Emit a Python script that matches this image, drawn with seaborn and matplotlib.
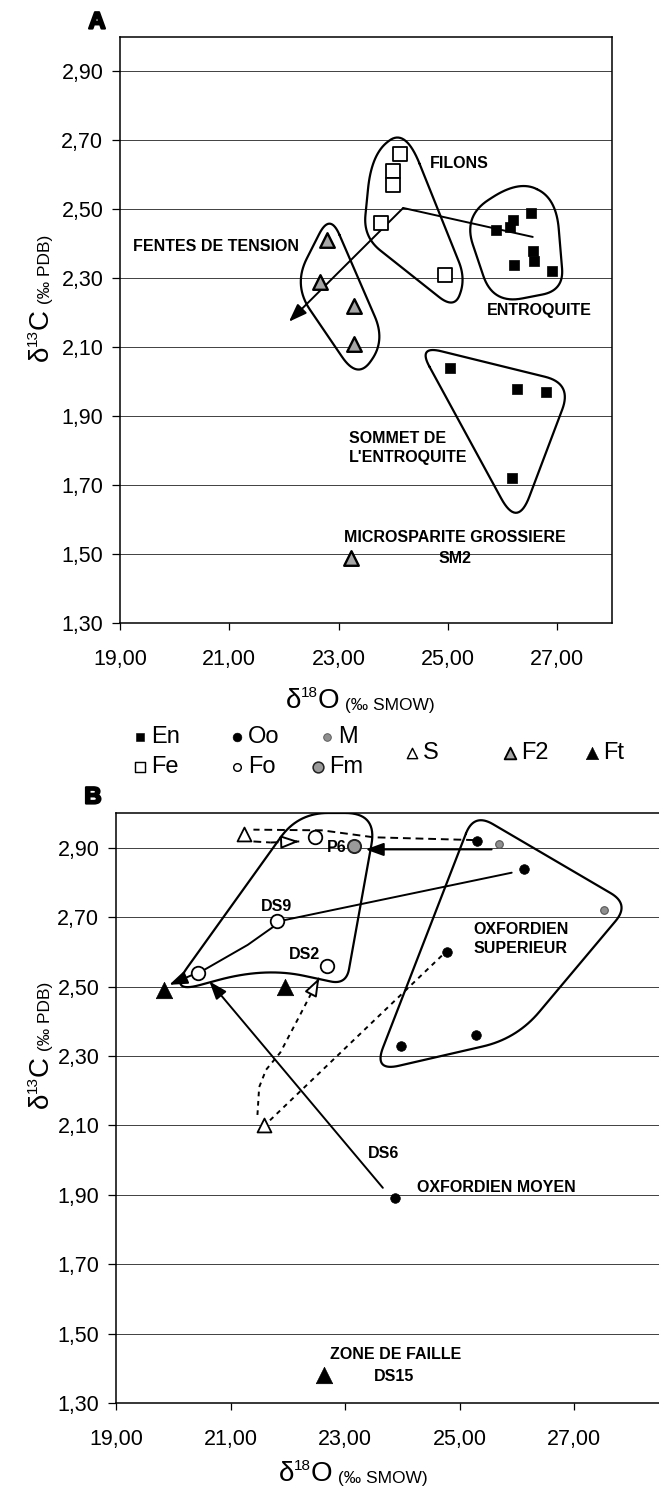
import numpy as np
import matplotlib
matplotlib.use("Agg")
import matplotlib.pyplot as plt
import matplotlib.patheffects as pe
import seaborn as sns

# ---------------------------------------------------------------- data
# axis ticks
x_ticks = [19, 21, 23, 25, 27]
x_tick_labels = ["19,00", "21,00", "23,00", "25,00", "27,00"]
y_ticks = [1.3, 1.5, 1.7, 1.9, 2.1, 2.3, 2.5, 2.7, 2.9]
y_tick_labels = ["1,30", "1,50", "1,70", "1,90", "2,10", "2,30", "2,50", "2,70", "2,90"]

# panel A : entroquite (En), filons (Fe), fentes / microsparite (F2)
a_en_x = [25.88, 26.13, 26.19, 26.52, 26.55, 26.21, 26.58, 26.91, 25.03, 26.27, 26.80, 26.17]
a_en_y = [2.44, 2.45, 2.47, 2.49, 2.38, 2.34, 2.35, 2.32, 2.04, 1.98, 1.97, 1.72]
a_fe_x = [24.12, 24.00, 23.99, 23.78, 24.94]
a_fe_y = [2.66, 2.61, 2.57, 2.46, 2.31]
a_f2_x = [22.78, 22.65, 23.28, 23.28, 23.22]
a_f2_y = [2.41, 2.29, 2.22, 2.11, 1.49]
a_trend_x = [26.55, 24.18, 22.09]
a_trend_y = [2.42, 2.504, 2.174]

# panel B : Oxfordien
b_oo_x = [25.31, 26.13, 24.78, 23.97, 25.28, 23.88]
b_oo_y = [2.92, 2.84, 2.60, 2.33, 2.36, 1.89]
b_m_x = [25.68, 27.52]
b_m_y = [2.91, 2.72]
b_fm_x = [23.16]
b_fm_y = [2.905]
b_fo_x = [22.48, 21.82, 22.69, 20.43]
b_fo_y = [2.93, 2.69, 2.56, 2.54]
b_s_x = [21.24, 21.58]
b_s_y = [2.94, 2.10]
b_ft_x = [19.84, 21.96, 22.64]
b_ft_y = [2.49, 2.50, 1.38]

# evolution paths, panel B
b_ds9_x = [25.91, 21.90, 21.30, 20.54, 19.93]
b_ds9_y = [2.828, 2.69, 2.62, 2.548, 2.505]
b_ds6_x = [23.66, 20.63]
b_ds6_y = [1.92, 2.515]
b_p6_x = [25.56, 23.36]
b_p6_y = [2.895, 2.895]
b_top_dash_x = [25.25, 23.5, 22.6, 21.40]
b_top_dash_y = [2.922, 2.93, 2.95, 2.952]
b_back_dash_x = [21.40, 21.7, 22.2]
b_back_dash_y = [2.918, 2.915, 2.918]
b_down_dash_x = [24.69, 21.66]
b_down_dash_y = [2.589, 2.11]
b_up_dash_x = [21.47, 21.50, 21.62, 21.87, 22.22, 22.55]
b_up_dash_y = [2.13, 2.21, 2.26, 2.31, 2.42, 2.525]

# group envelopes (corner vertices and corner rounding in px)
env_filons = ([24.22, 23.6, 23.45, 25.12, 25.32], [2.735, 2.66, 2.42, 2.21, 2.30], [38, 35, 22, 20, 18])
env_entro = ([26.3, 25.28, 25.82, 27.12, 26.98], [2.585, 2.48, 2.225, 2.265, 2.53], [38, 30, 30, 22, 30])
env_fentes = ([22.84, 22.17, 23.35, 23.85], [2.49, 2.28, 2.005, 2.12], [24, 30, 28, 26])
env_sommet = ([24.45, 27.27, 26.27], [2.105, 1.995, 1.575], [24, 28, 34])
env_b_left = ([22.18, 23.56, 23.02, 21.6, 19.92], [3.0, 3.0, 2.505, 2.555, 2.48], [30, 32, 16, 60, 32])
env_b_right = ([25.25, 27.97, 26.0, 23.5], [3.0, 2.737, 2.35, 2.255], [22, 22, 35, 26])

# ---------------------------------------------------------------- style
sns.set_theme(style="white")
plt.rcParams["font.family"] = ["Liberation Sans", "DejaVu Sans"]
plt.rcParams["text.color"] = "black"

W, H, DPI = 659, 1488, 100
fig = plt.figure(figsize=(W / DPI, H / DPI), dpi=DPI)
fig.patch.set_facecolor("white")


def frame(left, top, right, bottom):
    return [left / W, 1 - bottom / H, (right - left) / W, (bottom - top) / H]


ax_a = fig.add_axes(frame(120, 37, 612, 623))
ax_b = fig.add_axes(frame(116, 813, 660, 1403))
over = fig.add_axes([0, 0, 1, 1], zorder=10)
over.set_xlim(0, W)
over.set_ylim(H, 0)
over.axis("off")


def style_axes(ax, xmax, right_spine=True):
    ax.set_xlim(19, xmax)
    ax.set_ylim(1.3, 3.0)
    ax.set_xticks(x_ticks)
    ax.set_xticklabels(x_tick_labels)
    ax.set_yticks(y_ticks)
    ax.set_yticklabels(y_tick_labels)
    ax.tick_params(axis="y", direction="out", length=6, width=0.9, pad=6,
                   labelsize=15.5, colors="black", left=True)
    ax.tick_params(axis="x", direction="out", length=5, width=0.9, pad=14,
                   labelsize=15.5, colors="black", bottom=True)
    ax.grid(False)
    ax.yaxis.grid(True, color="#404040", lw=0.7, zorder=0)
    ax.set_axisbelow(True)
    for sp in ax.spines.values():
        sp.set_color("black")
        sp.set_linewidth(1.1)
        sp.set_visible(True)
    ax.spines["right"].set_visible(right_spine)
    ax.set_facecolor("white")


style_axes(ax_a, 28.0)
style_axes(ax_b, 28.5, right_spine=False)

SCALE_A = (492 / 9.0, 586 / 1.7)
SCALE_B = (544 / 9.5, 590 / 1.7)


def rounded_outline(env, scale, n=18):
    xs, ys, cuts = env
    sx, sy = scale
    P = np.column_stack([np.asarray(xs) * sx, np.asarray(ys) * sy])
    k = len(P)
    t = np.linspace(0, 1, n)[:, None]
    parts = []
    for i in range(k):
        prev, cur, nxt = P[i - 1], P[i], P[(i + 1) % k]
        d0 = prev - cur
        d1 = nxt - cur
        l0 = np.hypot(*d0)
        l1 = np.hypot(*d1)
        a = cur + d0 / l0 * min(cuts[i], 0.48 * l0)
        b = cur + d1 / l1 * min(cuts[i], 0.48 * l1)
        parts.append((1 - t) ** 2 * a + 2 * (1 - t) * t * cur + t ** 2 * b)
    pts = np.vstack(parts + [parts[0][:1]])
    return pts[:, 0] / sx, pts[:, 1] / sy


def envelope(ax, env, scale):
    ex, ey = rounded_outline(env, scale)
    ax.plot(ex, ey, color="black", lw=1.6, zorder=3, solid_joinstyle="round")


HEAD = "-|>,head_length=0.55,head_width=0.2"


def arrow(ax, tail, tip, open_head=False, lw=1.4):
    ax.annotate("", xy=tip, xytext=tail,
                arrowprops=dict(arrowstyle=HEAD, lw=lw, ec="black",
                                fc="white" if open_head else "black",
                                shrinkA=0, shrinkB=0, mutation_scale=20),
                zorder=4)


def path_arrow(ax, xs, ys, dashes=None, open_head=False):
    kw = dict(color="black", lw=1.4, zorder=3)
    if dashes:
        kw["dashes"] = dashes
    ax.plot(xs[:-1], ys[:-1], **kw)
    if dashes:
        ax.plot(xs[-2:], ys[-2:], **kw)
        x0, y0, x1, y1 = xs[-2], ys[-2], xs[-1], ys[-1]
        f = 0.8
        arrow(ax, (x1 - (x1 - x0) * (1 - f), y1 - (y1 - y0) * (1 - f)),
              (x1, y1), open_head=open_head)
    else:
        arrow(ax, (xs[-2], ys[-2]), (xs[-1], ys[-1]), open_head=open_head)


MARK = {
    "En": dict(marker="s", s=58, color="black", edgecolor="black", linewidth=0.5),
    "Fe": dict(marker="s", s=100, color="white", edgecolor="black", linewidth=1.3),
    "F2": dict(marker="^", s=110, color="#a6a6a6", edgecolor="black", linewidth=1.7),
    "Oo": dict(marker="o", s=48, color="black", edgecolor="black", linewidth=0.5),
    "Fo": dict(marker="o", s=95, color="white", edgecolor="black", linewidth=1.3),
    "M": dict(marker="o", s=30, color="#8f8f8f", edgecolor="#555555", linewidth=0.8),
    "Fm": dict(marker="o", s=90, color="#9a9a9a", edgecolor="#222222", linewidth=1.4),
    "S": dict(marker="^", s=100, color="white", edgecolor="black", linewidth=1.3),
    "Ft": dict(marker="^", s=140, color="black", edgecolor="black", linewidth=0.5),
}


def points(ax, xs, ys, key):
    sns.scatterplot(x=xs, y=ys, ax=ax, legend=False, zorder=5, **MARK[key])


LBL = dict(fontsize=11.5, fontweight="bold", color="black", zorder=6)

# ---------------------------------------------------------------- panel A
for env in (env_filons, env_entro, env_fentes, env_sommet):
    envelope(ax_a, env, SCALE_A)
path_arrow(ax_a, a_trend_x, a_trend_y)
points(ax_a, a_en_x, a_en_y, "En")
points(ax_a, a_fe_x, a_fe_y, "Fe")
points(ax_a, a_f2_x, a_f2_y, "F2")

ax_a.text(25.21, 2.634, "FILONS", ha="center", va="center", **LBL)
ax_a.text(20.76, 2.393, "FENTES DE TENSION", ha="center", va="center", **LBL)
ax_a.text(26.67, 2.206, "ENTROQUITE", ha="center", va="center", **LBL)
ax_a.text(23.18, 1.807, "SOMMET DE\nL'ENTROQUITE", ha="left", va="center",
          linespacing=1.35, **LBL)
ax_a.text(25.12, 1.547, "MICROSPARITE GROSSIERE", ha="center", va="center", **LBL)
ax_a.text(25.12, 1.487, "SM2", ha="center", va="center", **LBL)

# ---------------------------------------------------------------- panel B
for env in (env_b_left, env_b_right):
    envelope(ax_b, env, SCALE_B)
path_arrow(ax_b, b_ds9_x, b_ds9_y)
path_arrow(ax_b, b_ds6_x, b_ds6_y)
path_arrow(ax_b, b_p6_x, b_p6_y)
ax_b.plot(b_top_dash_x, b_top_dash_y, color="black", lw=1.4, dashes=(4, 2.5), zorder=3)
path_arrow(ax_b, b_back_dash_x, b_back_dash_y, dashes=(4, 2.5), open_head=True)
ax_b.plot(b_down_dash_x, b_down_dash_y, color="black", lw=1.4, dashes=(2.4, 2.4), zorder=3)
path_arrow(ax_b, b_up_dash_x, b_up_dash_y, dashes=(2.4, 2.4), open_head=True)

points(ax_b, b_oo_x, b_oo_y, "Oo")
points(ax_b, b_m_x, b_m_y, "M")
points(ax_b, b_fm_x, b_fm_y, "Fm")
points(ax_b, b_fo_x, b_fo_y, "Fo")
points(ax_b, b_s_x, b_s_y, "S")
points(ax_b, b_ft_x, b_ft_y, "Ft")

ax_b.text(22.85, 2.90, "P6", ha="center", va="center", **LBL)
ax_b.text(21.80, 2.73, "DS9", ha="center", va="center", **LBL)
ax_b.text(22.29, 2.593, "DS2", ha="center", va="center", **LBL)
ax_b.text(25.24, 2.637, "OXFORDIEN\nSUPERIEUR", ha="left", va="center",
          linespacing=1.3, **LBL)
ax_b.text(23.67, 2.02, "DS6", ha="center", va="center", **LBL)
ax_b.text(24.26, 1.92, "OXFORDIEN MOYEN", ha="left", va="center", **LBL)
ax_b.text(23.88, 1.439, "ZONE DE FAILLE", ha="center", va="center", **LBL)
ax_b.text(23.86, 1.375, "DS15", ha="center", va="center", **LBL)

# ---------------------------------------------------------------- panel letters
for letter, (lx, ly) in (("A", (97, 22)), ("B", (93, 797))):
    over.text(lx, ly, letter, ha="center", va="center", fontsize=17,
              fontweight="bold", path_effects=[pe.withStroke(linewidth=1.6, foreground="black")])

# ---------------------------------------------------------------- axis titles
renderer = fig.canvas.get_renderer()


def rich_label(pieces, center, base, rotation=0):
    made = []
    sizes = []
    for s, size, rise in pieces:
        t = over.text(0, 0, s, fontsize=size, ha="left", va="baseline",
                      rotation=rotation, rotation_mode="anchor")
        bb = t.get_window_extent(renderer)
        made.append((t, rise))
        sizes.append(bb.width if rotation == 0 else bb.height)
    total = sum(sizes)
    pos = center - total / 2 if rotation == 0 else center + total / 2
    for (t, rise), L in zip(made, sizes):
        if rotation == 0:
            t.set_position((pos, base - rise))
            pos += L
        else:
            t.set_position((base - rise, pos))
            pos -= L


x_title = [("δ", 20, 0), ("18", 11, 11), ("O", 20, 0), (" (‰ SMOW)", 12.5, -2)]
y_title = [("δ", 20, 0), ("13", 11, 11), ("C", 20, 0), (" (‰ PDB)", 12.5, -2)]
rich_label(x_title, 360, 708)
rich_label(x_title, 353, 1481)
rich_label(y_title, 298, 48, rotation=90)
rich_label(y_title, 1045, 48, rotation=90)

# ---------------------------------------------------------------- legend
legend_items = [
    ("En", "En", 140, 737, 30), ("Oo", "Oo", 237, 737, 40), ("M", "M", 327, 737, 30),
    ("Fe", "Fe", 140, 767, 50), ("Fo", "Fo", 237, 767, 30), ("Fm", "Fm", 318, 767, 60),
    ("S", "S", 412, 753, 55), ("F2", "F2", 510, 753, 70), ("Ft", "Ft", 592, 753, 80),
]
for key, text, mx, my, size in legend_items:
    st = MARK[key]
    over.scatter([mx], [my], marker=st["marker"], s=size, c=st["color"],
                 edgecolors=st["edgecolor"], linewidths=st["linewidth"] * 0.8, zorder=5)
    over.text(mx + 11, my, text, fontsize=17, ha="left", va="center")

fig.savefig("out.png", dpi=DPI, facecolor="white")
